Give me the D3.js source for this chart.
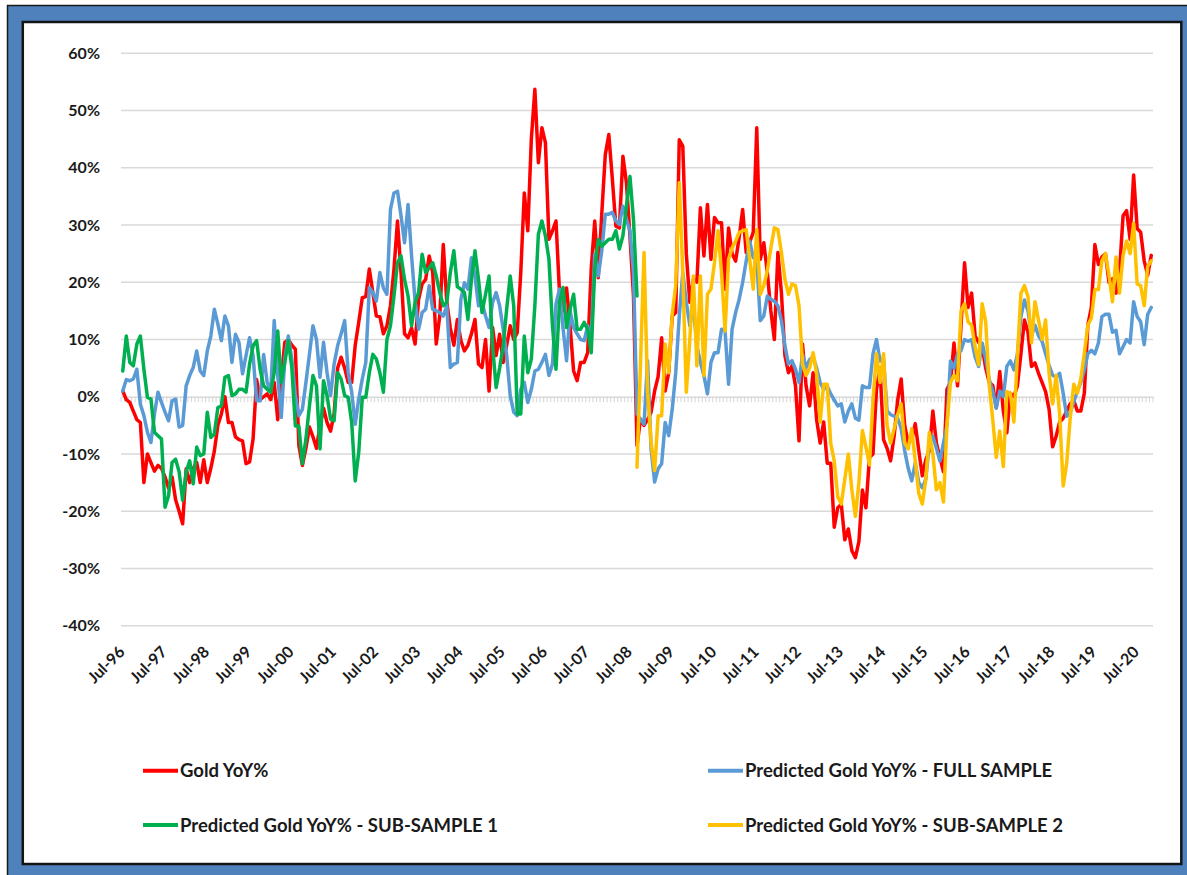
<!DOCTYPE html>
<html><head><meta charset="utf-8">
<script src="https://cdn.jsdelivr.net/npm/d3@7"></script>
<style>
html,body{margin:0;padding:0;background:#fff;}
svg{display:block;}
text{font-family:Lato,"Open Sans",sans-serif;font-weight:bold;fill:#1a1a1a;}
</style>
</head><body>
<svg id="chart" width="1187" height="875"></svg>
<script>
// ---------------- DATA ----------------
const startMonth = "Jul-96";      // first category
const sub2Start = "Sep-08";       // first category of SUB-SAMPLE 2
const yTickValues = [-40, -30, -20, -10, 0, 10, 20, 30, 40, 50, 60];
const xTickLabels = ["Jul-96","Jul-97","Jul-98","Jul-99","Jul-00","Jul-01","Jul-02","Jul-03","Jul-04","Jul-05","Jul-06","Jul-07","Jul-08","Jul-09","Jul-10","Jul-11","Jul-12","Jul-13","Jul-14","Jul-15","Jul-16","Jul-17","Jul-18","Jul-19","Jul-20"];
const seriesNames = ["Gold YoY%", "Predicted Gold YoY% - FULL SAMPLE", "Predicted Gold YoY% - SUB-SAMPLE 1", "Predicted Gold YoY% - SUB-SAMPLE 2"];

// Gold YoY% (monthly, from Jul-96)
const goldYoY = [
 1,-0.5,-1,-2.5,-4,-4.5,-15,-10,-11.5,-13,
 -12,-12.5,-14,-16,-14,-18,-20,-22.2,-12.6,-15,
 -12.5,-11.5,-15,-11,-15,-12.5,-9.5,-5,-3,0,
 -4.5,-4.5,-7,-7.5,-7.7,-11.7,-11.4,-7.4,3,-0.5,
 0,0.5,-0.5,2.5,-4,3,9.5,10,9,8.3,
 -8.5,-12,-9,-5.3,-7,-9,-5,-2,-4.5,-6,
 -3,5,6.9,5,2.5,2.5,9,13,17.3,17.5,
 22.3,18.2,14.1,14,11,12.4,15.9,22.3,30.7,21.7,
 11,10.3,12,9.2,17,19.7,20.5,24.6,21.7,9.2,
 14.1,26.6,16.5,12,9,13.5,9.8,8,9,11,
 13.5,5.7,5.1,10,1,12.1,7.2,10.9,6,9,
 12.4,10,11.2,21.7,35.6,29,45,53.7,40.9,47,
 44.4,27.5,29,30.7,18.2,15,19,12.4,4.5,2.8,
 6,6,7.7,22.3,30.7,20.8,32,42.3,45.8,38,
 29.8,29.5,42,37.4,28,17.6,-8.5,-3.9,-5,-4,
 -2.7,1,3.5,10.3,1,4.2,14.1,14.7,44.9,43.8,
 25,16.5,20.5,20,33,24.6,33.6,24,31.3,30.4,
 30.4,18.8,29.5,25,23.7,27.8,32.7,25.2,27,28.7,
 47,24,26.9,21.7,15,10,25.2,18.2,7.2,4.2,
 5.4,1.9,-7.7,9.2,1.9,-1.6,4.2,-4,-8.1,-4.4,
 -11.6,-11.6,-22.8,-19.4,-18.8,-25,-23.1,-26.9,-28.1,-25.3,
 -16.3,-19.4,-10.6,-10,1.3,5,-7.5,-9,-11.2,-6.9,
 -0.6,3.1,-5,-8.1,-7.5,-4.7,-9.4,-13.8,-11,-9.4,
 -2.5,-8.1,-10.6,-13.1,1.3,2.5,9.4,1.9,12.5,23.4,
 15.6,18.1,10.6,9.5,8.8,5,2.5,2,-1.9,4.4,
 -2.5,-6.3,0.6,0,1.9,7.5,13.4,11.3,5.3,5.9,
 4.1,2.5,0.9,-2.2,-8.75,-6.9,-4.4,-3.75,-2.5,-1.25,
 -0.6,-2.5,-2.5,0.6,12.5,15.6,26.6,23.1,24.4,25,
 20,20.6,18.1,21.9,31.6,32.5,27.5,38.75,29.4,28.75,
 23.75,21.25,24.7
];

// Predicted Gold YoY% - FULL SAMPLE (monthly, from Jul-96)
const predFull = [
 1,3,2.8,3.1,4.8,-1.3,-3.3,-6.2,-8,-3,
 0.8,-1,-2.7,-4.2,-0.7,-0.4,-5.3,-5,1.9,3.7,
 5.1,8,4.5,3.7,8,10.6,15.3,12.7,9.8,14.1,
 12.4,6,10.9,9.5,4,7.2,10.3,7.2,-0.7,-0.7,
 7.4,2.5,0.8,13.3,3.7,-3.6,6.6,10.6,6.6,0.2,
 -3.3,-2.2,2.5,7.4,12.4,10,3.4,9.5,4.2,0.2,
 5.7,8.9,11,13.3,4.2,0.8,-4.8,-0.4,3.1,6,
 19.1,18.2,16.7,21.7,19,17.9,32.7,35.6,35.9,31.6,
 26.9,33.6,24.6,16.7,11.8,14.7,15.3,19.4,15.3,15,
 14.7,14.1,15.9,5.1,5.7,6,17,19.9,18.8,24.3,
 21.1,15.9,16.5,14.1,12.1,16.5,18.2,15.9,11.8,7.2,
 0.2,-2.7,-3.3,1.3,2.5,-1,1.3,4.5,4.8,6,
 7.4,3.7,5.7,16.2,18.8,12,6.3,15,12.1,11,
 10,9.8,12.4,9.5,24.9,21.1,25.5,31.9,31.9,32.2,
 30.7,30.1,33.3,31,29,21.7,-3,-4,-4.8,6.3,
 -9.1,-14.9,-12.6,-11.7,-4.5,-6.8,-2.2,4.2,14.1,21.7,
 16.5,12.4,15.9,8.9,6,3.7,0.5,6,7.7,7.7,
 11.8,11.5,2.2,11.8,14.7,17,20,23.7,27.2,24.3,
 24,13.3,14.1,17.6,17,16.7,15.9,13.3,8.9,5.7,
 6.3,4.8,2.5,7.4,5.1,6.5,7,5,2.5,1.25,
 1.9,0.5,-0.6,-1.6,-1.25,-4.4,-2.5,-1.25,-3.75,-4.1,
 1.9,1.6,1.6,7.5,10,6.25,6.6,-2.5,-3.1,-3.4,
 -3.75,-5.6,-9.4,-12.5,-14.7,-11.6,-15,-15.9,-14.4,-8.1,
 -6.9,-9,-11.25,-8.1,-5,6.25,5,7.5,8.1,10,
 9.7,10,6.9,5.3,9.4,6.6,3,1,-2,1,
 0,5.3,6.25,4.7,7.5,14,16.9,15,10.6,12.5,
 10.6,9.7,7.5,5.5,3.75,3.4,4.1,0.6,-3.4,-2.8,
 -0.9,0.9,2.5,4.7,7.5,8.1,7.5,9.4,14,14.4,
 14.4,11.25,11.6,7.5,8.75,10,9.4,16.6,14,13.1,
 9.1,14.4,15.6
];

// Predicted Gold YoY% - SUB-SAMPLE 1 (monthly, from Jul-96)
const predSub1 = [
 4.5,10.6,6,5.4,9.2,10.6,4.8,-0.1,-0.4,-6.2,
 -6.8,-7.4,-19.3,-17.3,-11.5,-10.9,-13.1,-18.1,-13.1,-11.2,
 -15.2,-8.8,-10.3,-10,-2.7,-7.1,-6.5,-1.9,-1.6,3.4,
 3.7,0.2,0.5,1.3,1.3,0.8,5.7,8.9,9.8,4.8,
 1.9,1.3,0.8,4.2,11.5,2.5,6,9.8,5.1,-5.1,
 -5.1,-11.7,-7.4,-1.6,3.7,1.9,-9.1,2.8,0.2,-3.9,
 -4.2,4.2,3.1,0.2,-0.1,-4.5,-14.7,-9.7,-0.1,-0.1,
 4.2,7.4,6.6,4.2,0.8,10,12.4,17.6,23.4,24.6,
 20.5,17.6,12.4,16.5,18.2,24.9,21.7,22.5,23.4,21.1,
 18.2,15.9,16.5,21.7,25.5,19.2,18.8,18.2,13.5,20.5,
 25.5,20.5,14.7,17.9,21.1,8.9,1.6,5,8.9,15.3,
 21.1,15.9,-3,-3,10.6,4.2,6.6,15.9,28.4,30.7,
 28.1,24,12.4,4.8,16.5,19.1,12.1,15.3,17.9,11.8,
 11.8,13,11.8,7.7,22.3,27.5,26.3,26.9,27.5,27.5,
 29,25.8,28.1,33.3,38.5,31,17.6
];

// Predicted Gold YoY% - SUB-SAMPLE 2 (monthly, from Sep-08)
const predSub2 = [
 -12.3,6,25.2,0.8,
 -8,-12.9,-3.3,-3.3,9.2,4.2,14.4,19.5,37.4,21.7,
 0.8,10,21.1,5.4,21.1,3.7,17.9,18.8,23.4,29,
 21.7,11.5,24,26,27.2,28.7,29,29.2,24,18.8,
 29.2,17.9,19.4,22,26,29.5,29.2,25.2,20.5,17.9,
 19.7,19.4,15.9,5.7,3.7,5,7.7,4,-4.4,2.2,
 2.2,-8.1,-11.25,-17.5,-18.75,-14.4,-10,-16.25,-20.9,-15,
 -5.9,-8.75,-11.9,-0.6,7.5,2.5,7.5,-5,-8.1,-5.6,
 -3.1,-1.25,-8.1,-9.1,-5.6,-11.25,-16.9,-18.75,-14.4,-6.25,
 -10,-16.25,-15,-18.4,-5,2.5,3.75,2.8,15,16.25,
 13.1,12.5,8.75,5.6,16.25,13.1,2,-4,-10.6,-6,
 -12.2,0.9,0.6,-4.4,6.9,18.1,19.4,17.5,9.4,16.6,
 13.4,10,13.4,4.1,-1.25,3.75,-3.1,-15.6,-11.6,-3.75,
 2.2,0.6,3.1,7.5,12.5,13.75,18.75,18.75,23.75,25,
 21.25,16.6,24.4,18.1,24.7,27.2,25,30.3,19.7,19.4,
 15.9,22.8,23.75
];

// ---------------- CHART ----------------
const parse = d3.timeParse("%b-%y"), fmt = d3.timeFormat("%b-%y");
const t0 = parse(startMonth);
const categories = d3.range(goldYoY.length).map(i => fmt(d3.timeMonth.offset(t0, i)));
const sub2Offset = categories.indexOf(sub2Start);

const svg = d3.select("#chart");
const W = 1187, H = 875;
const plot = {left: 121, right: 1153, top: 53.3, bottom: 625.7};

// frame
svg.append("rect").attr("x", 7.5).attr("y", 5.5).attr("width", W).attr("height", H)
  .attr("fill", "#4f81bd").attr("stroke", "#1a1a1a").attr("stroke-width", 1.5);
svg.append("rect").attr("x", 22.8).attr("y", 22).attr("width", 1158.5).attr("height", 842)
  .attr("fill", "#ffffff").attr("stroke", "#141414").attr("stroke-width", 2.5);

const x = d3.scaleBand().domain(categories).range([plot.left, plot.right]).paddingInner(0).paddingOuter(0);
const xc = c => x(c) + x.bandwidth() / 2;
const y = d3.scaleLinear().domain([-40, 60]).range([plot.bottom, plot.top]);

// gridlines
svg.append("g").selectAll("line").data(yTickValues.filter(v => v !== 0)).join("line")
  .attr("x1", plot.left).attr("x2", plot.right)
  .attr("y1", d => y(d)).attr("y2", d => y(d))
  .attr("stroke", "#d9d9d9").attr("stroke-width", 1.4);

// category axis at 0 with tick marks
const xAxis = d3.axisBottom(x).tickValues([]).tickSize(0);
const axG = svg.append("g").attr("transform", `translate(0,${y(0)})`).call(xAxis);
axG.select(".domain").attr("stroke", "#d9d9d9").attr("stroke-width", 1.4);
axG.selectAll(".tickmark").data(d3.range(categories.length + 1)).join("line")
  .attr("class", "tickmark")
  .attr("x1", i => plot.left + i * x.bandwidth()).attr("x2", i => plot.left + i * x.bandwidth())
  .attr("y1", 0).attr("y2", 5.5)
  .attr("stroke", "#d6d6d6").attr("stroke-width", 1);

// y axis labels
const yAxis = d3.axisLeft(y).tickValues(yTickValues).tickFormat(d => d + "%").tickSize(0).tickPadding(0);
const yG = svg.append("g").attr("transform", `translate(100,0)`).call(yAxis);
yG.select(".domain").remove();
yG.selectAll("text").attr("font-size", 16).attr("font-family", "Lato,'Open Sans',sans-serif")
  .attr("font-weight", "bold").attr("fill", "#1a1a1a");

// x labels
svg.append("g").selectAll("text").data(xTickLabels).join("text")
  .attr("transform", d => `translate(${xc(d) + 3},653) rotate(-45)`)
  .attr("text-anchor", "end").attr("font-size", 16).text(d => d);

// lines
const line = d3.line().x(d => xc(d.c)).y(d => y(d.v)).curve(d3.curveLinear);
const colors = ["#ff0000", "#5b9bd5", "#00b050", "#ffc000"];
const seriesData = [
  goldYoY.map((v, i) => ({c: categories[i], v})),
  predFull.map((v, i) => ({c: categories[i], v})),
  predSub1.map((v, i) => ({c: categories[i], v})),
  predSub2.map((v, i) => ({c: categories[i + sub2Offset], v}))
];
seriesData.forEach((s, k) => {
  svg.append("path").datum(s).attr("d", line)
    .attr("fill", "none").attr("stroke", colors[k]).attr("stroke-width", 3.5)
    .attr("stroke-linejoin", "round").attr("stroke-linecap", "round");
});

// legend
const legendPos = [
  {x: 143, y: 770.7}, {x: 708, y: 770.7}, {x: 143, y: 825}, {x: 708, y: 825}
];
seriesNames.forEach((name, k) => {
  const p = legendPos[k];
  svg.append("line").attr("x1", p.x).attr("x2", p.x + 35).attr("y1", p.y).attr("y2", p.y)
    .attr("stroke", colors[k]).attr("stroke-width", 4);
  svg.append("text").attr("x", p.x + 37).attr("y", p.y).attr("dy", "0.36em")
    .attr("font-size", 18.5).text(name);
});
</script>
</body></html>
